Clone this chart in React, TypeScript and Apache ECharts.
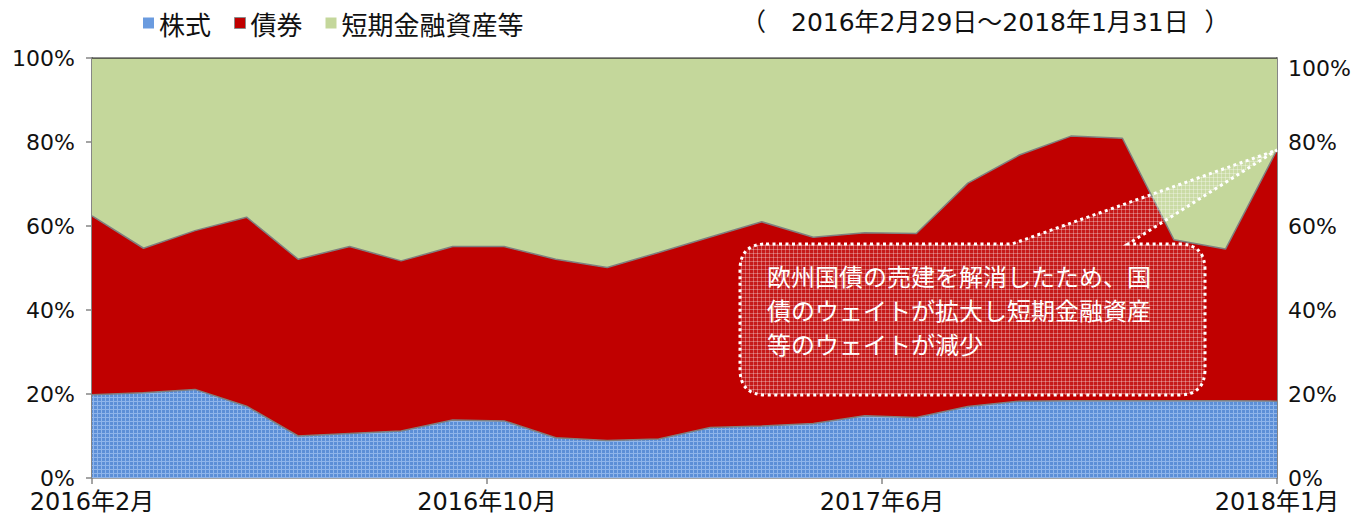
import React, { useEffect, useRef } from "react";
import * as echarts from "echarts";

// ---- data ----
const months = [
  "2016/2", "2016/3", "2016/4", "2016/5", "2016/6", "2016/7", "2016/8", "2016/9",
  "2016/10", "2016/11", "2016/12", "2017/1", "2017/2", "2017/3", "2017/4", "2017/5",
  "2017/6", "2017/7", "2017/8", "2017/9", "2017/10", "2017/11", "2017/12", "2018/1",
];
const xTickLabels = ["2016年2月", "2016年10月", "2017年6月", "2018年1月"];
const seriesNames = ["株式", "債券", "短期金融資産等"];
const stocks = [
  19.8, 20.3, 21.1, 17.1, 10.0, 10.6, 11.2, 13.8, 13.6, 9.6, 8.9, 9.3,
  12.0, 12.4, 13.0, 14.8, 14.4, 17.0, 18.3, 18.4, 18.4, 18.4, 18.4, 18.3,
];
const bonds = [
  42.6, 34.4, 37.8, 45.0, 42.1, 44.5, 40.5, 41.3, 41.5, 42.5, 41.2, 44.4,
  45.4, 48.6, 44.3, 43.6, 43.8, 53.2, 58.6, 63.0, 62.5, 38.3, 36.1, 59.8,
];
const shortTerm = [
  37.6, 45.3, 41.1, 37.9, 47.9, 44.9, 48.3, 44.9, 44.9, 47.9, 49.9, 46.3,
  42.6, 39.0, 42.7, 41.6, 41.8, 29.8, 23.1, 18.6, 19.1, 43.3, 45.5, 21.9,
];
const yMin = 0;
const yMax = 100;
const yStep = 20;
const periodText = "（　2016年2月29日～2018年1月31日  ）";
const noteLines = [
  "欧州国債の売建を解消したため、国",
  "債のウェイトが拡大し短期金融資産",
  "等のウェイトが減少",
];

// ---- style ----
const FONT = "'DejaVu Sans', 'Noto Sans CJK JP', sans-serif";
const CJK = "'Noto Sans CJK JP', 'DejaVu Sans', sans-serif";
const BLUE = "#6a9bdf";
const RED = "#c00000";
const GREEN = "#c4d79b";
const AXIS = "#868686";

function makePattern(bg: string, fg: string) {
  const c = document.createElement("canvas");
  c.width = 4;
  c.height = 4;
  const ctx = c.getContext("2d")!;
  ctx.clearRect(0, 0, 4, 4);
  ctx.fillStyle = bg;
  ctx.fillRect(0, 0, 4, 4);
  ctx.fillStyle = fg;
  ctx.fillRect(0, 1, 4, 1);
  ctx.fillRect(1, 0, 1, 4);
  return { image: c, repeat: "repeat", imageWidth: 4, imageHeight: 4 } as any;
}

export default function App() {
  const ref = useRef<HTMLDivElement>(null);

  useEffect(() => {
    if (!ref.current) return;
    const chart = echarts.init(ref.current, undefined, { renderer: "svg" });
    const lastIdx = months.length - 1;
    const xInterval = lastIdx / (xTickLabels.length - 1);
    const bluePattern = makePattern("#5c8fd7", "#8fb5ea");
    const notePattern = makePattern("rgba(255,255,255,0.10)", "rgba(255,255,255,0.30)");

    const lineGray = { color: "#7f7f7f", width: 1.5 };

    chart.setOption({
      animation: false,
      textStyle: { fontFamily: FONT },
      grid: { left: 92, right: 92, top: 58, bottom: 40, containLabel: false },
      legend: {
        left: 138,
        top: 5,
        icon: "rect",
        itemWidth: 11,
        itemHeight: 11,
        itemGap: 23,
        textStyle: { fontSize: 26, fontFamily: CJK, color: "#111" },
        data: [
          { name: seriesNames[0], itemStyle: { color: BLUE } },
          { name: seriesNames[1], itemStyle: { color: RED, borderColor: "#8a8a8a", borderWidth: 1 } },
          { name: seriesNames[2], itemStyle: { color: GREEN } },
        ],
      },
      xAxis: [
        {
          type: "category",
          data: months,
          boundaryGap: false,
          position: "bottom",
          axisLine: { show: true, lineStyle: { color: AXIS, width: 1.5 } },
          axisTick: { show: false },
          axisLabel: { show: false },
          splitLine: { show: false },
        },
        {
          // label axis: evenly spaced date labels as in the source chart
          type: "value",
          min: 0,
          max: lastIdx,
          interval: xInterval,
          position: "bottom",
          axisLine: { show: false },
          axisTick: { show: true, length: 6, lineStyle: { color: AXIS, width: 1.5 } },
          splitLine: { show: false },
          axisLabel: {
            margin: 14,
            fontSize: 24,
            lineHeight: 20,
            color: "#111",
            fontFamily: FONT,
            showMinLabel: true,
            showMaxLabel: true,
            formatter: (v: number) => xTickLabels[Math.round(v / xInterval)] ?? "",
          },
        },
      ],
      yAxis: [
        {
          type: "value",
          min: yMin,
          max: yMax,
          interval: yStep,
          position: "left",
          axisLine: { show: true, lineStyle: { color: AXIS, width: 2 } },
          axisTick: { show: true, length: 6, lineStyle: { color: AXIS, width: 1.5 } },
          splitLine: { show: false },
          axisLabel: { margin: 17, fontSize: 22, lineHeight: 16, color: "#111", formatter: "{value}%" },
        },
        {
          type: "value",
          min: yMin,
          max: yMax,
          interval: yStep,
          position: "right",
          axisLine: { show: true, lineStyle: { color: AXIS, width: 2 } },
          axisTick: { show: false },
          splitLine: { show: false },
          axisLabel: {
            margin: 11,
            fontSize: 22,
            lineHeight: 16,
            color: "#111",
            formatter: (v: number) => (v === yMax ? `{top|${v}%}` : `${v}%`),
            rich: { top: { padding: [20, 0, 0, 0], fontSize: 22, lineHeight: 16, fontFamily: FONT, color: "#111" } },
          },
        },
      ],
      series: [
        {
          name: seriesNames[0],
          type: "line",
          stack: "total",
          color: BLUE,
          symbol: "none",
          lineStyle: lineGray,
          areaStyle: { color: bluePattern, opacity: 1 },
          data: stocks,
          z: 2,
        },
        {
          name: seriesNames[1],
          type: "line",
          stack: "total",
          color: RED,
          symbol: "none",
          lineStyle: lineGray,
          areaStyle: { color: RED, opacity: 1 },
          data: bonds,
          z: 2,
        },
        {
          name: seriesNames[2],
          type: "line",
          stack: "total",
          color: GREEN,
          symbol: "none",
          lineStyle: { color: "#3a3a3a", width: 1.5 },
          areaStyle: { color: GREEN, opacity: 1 },
          data: shortTerm,
          z: 2,
        },
      ],
    });

    // callout pointing to the last point of the bond stack
    const tip = chart.convertToPixel({ xAxisIndex: 0, yAxisIndex: 0 }, [
      lastIdx,
      stocks[lastIdx] + bonds[lastIdx],
    ]) as number[];
    const L = 740, R = 1205, T = 244, B = 395, r = 26, w1 = 1012, w2 = 1128;
    const d =
      `M ${L + r} ${T} L ${w1} ${T} L ${tip[0]} ${tip[1]} L ${w2} ${T} L ${R - r} ${T} ` +
      `Q ${R} ${T} ${R} ${T + r} L ${R} ${B - r} Q ${R} ${B} ${R - r} ${B} ` +
      `L ${L + r} ${B} Q ${L} ${B} ${L} ${B - r} L ${L} ${T + r} Q ${L} ${T} ${L + r} ${T} Z`;
    echarts.graphic.registerShape("callout", echarts.graphic.extendPath(d, {}) as any);

    chart.setOption({
      graphic: [
        {
          type: "callout",
          z: 100,
          silent: true,
          style: {
            fill: notePattern,
            stroke: "#ffffff",
            lineWidth: 3,
            lineDash: [3, 3.5],
          },
        },
        {
          type: "text",
          z: 101,
          left: 767,
          top: 258,
          silent: true,
          style: {
            text: noteLines.join("\n"),
            fill: "#ffffff",
            font: `24px ${CJK}`,
            lineHeight: 34,
          },
        },
        {
          type: "text",
          z: 101,
          left: 741,
          top: 10,
          silent: true,
          style: {
            text: periodText,
            fill: "#111",
            font: `25px ${FONT}`,
          },
        },
      ],
    });

    return () => chart.dispose();
  }, []);

  return (
    <div
      ref={ref}
      style={{ position: "absolute", left: 0, top: 0, width: 1369, height: 518 }}
    />
  );
}
